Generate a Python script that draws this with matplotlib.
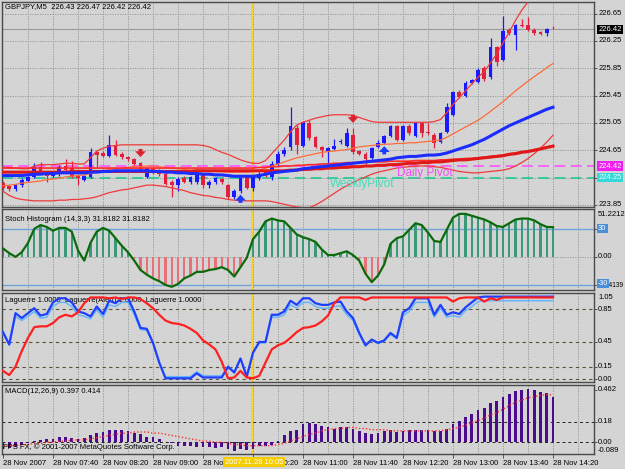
import matplotlib
matplotlib.use("Agg")
import matplotlib.pyplot as plt

W, H = 625, 469
BG = "#d4d4d4"
GRID = "#8c968c"

# ---- GBPJPY M5, 28 Nov 2007 07:00 .. 14:20 ----
opens = [
    224.17, 224.12, 224.08, 224.14, 224.20, 224.26, 224.41, 224.33, 224.28, 224.30,
    224.42, 224.39, 224.27, 224.22, 224.26, 224.62, 224.61, 224.57, 224.73, 224.60,
    224.55, 224.52, 224.46, 224.26, 224.37, 224.36, 224.31, 224.19, 224.14, 224.24,
    224.18, 224.18, 224.30, 224.14, 224.18, 224.23, 224.14, 223.97, 224.06, 224.26,
    224.10, 224.24, 224.33, 224.26, 224.45, 224.60, 224.70, 224.98, 224.72, 225.05,
    224.84, 224.70, 224.64, 224.67, 224.77, 224.72, 224.87, 224.64, 224.60, 224.54,
    224.70, 224.76, 224.86, 225.00, 224.80, 225.00, 224.86, 225.05, 224.92, 224.88,
    224.77, 224.92, 225.17, 225.50, 225.45, 225.64, 225.65, 225.85, 225.72, 226.16,
    225.97, 226.41, 226.34, 226.49, 226.48, 226.41, 226.38, 226.36, 226.43]
highs = [
    224.20, 224.14, 224.16, 224.24, 224.28, 224.46, 224.48, 224.35, 224.35, 224.43,
    224.52, 224.49, 224.29, 224.29, 224.68, 224.64, 224.64, 224.88, 224.80, 224.63,
    224.57, 224.54, 224.48, 224.41, 224.40, 224.38, 224.33, 224.21, 224.26, 224.27,
    224.28, 224.33, 224.32, 224.21, 224.26, 224.25, 224.16, 224.08, 224.26, 224.28,
    224.28, 224.33, 224.36, 224.49, 224.64, 224.70, 225.28, 225.02, 225.08, 225.10,
    224.86, 224.72, 224.70, 224.82, 224.82, 224.98, 224.97, 224.66, 224.62, 224.70,
    224.80, 224.88, 225.02, 225.02, 225.02, 225.03, 225.07, 225.07, 225.05, 224.90,
    224.92, 225.34, 225.52, 225.53, 225.66, 225.70, 225.86, 225.88, 226.30, 226.18,
    226.62, 226.44, 226.50, 226.57, 226.60, 226.44, 226.40, 226.44, 226.47]
lows = [
    224.07, 224.05, 224.06, 224.12, 224.18, 224.24, 224.30, 224.18, 224.26, 224.28,
    224.33, 224.24, 224.14, 224.20, 224.25, 224.40, 224.55, 224.55, 224.56, 224.52,
    224.49, 224.43, 224.34, 224.24, 224.31, 224.28, 224.14, 223.97, 224.06, 224.17,
    224.16, 224.16, 224.10, 224.10, 224.16, 224.16, 223.94, 223.94, 224.03, 224.08,
    224.06, 224.22, 224.26, 224.22, 224.42, 224.56, 224.66, 224.60, 224.70, 224.80,
    224.68, 224.55, 224.40, 224.65, 224.74, 224.70, 224.60, 224.58, 224.45, 224.52,
    224.68, 224.74, 224.84, 224.78, 224.78, 224.88, 224.84, 224.84, 224.88, 224.68,
    224.75, 224.90, 225.15, 225.41, 225.43, 225.62, 225.63, 225.66, 225.70, 225.88,
    225.95, 226.33, 226.12, 226.45, 226.39, 226.34, 226.33, 226.32, 226.42]
closes = [
    224.10, 224.09, 224.14, 224.22, 224.26, 224.41, 224.32, 224.28, 224.33, 224.41,
    224.36, 224.26, 224.24, 224.27, 224.62, 224.58, 224.57, 224.73, 224.58, 224.55,
    224.52, 224.45, 224.36, 224.39, 224.34, 224.30, 224.16, 224.14, 224.23, 224.19,
    224.26, 224.29, 224.14, 224.19, 224.24, 224.18, 223.97, 224.06, 224.24, 224.10,
    224.26, 224.31, 224.28, 224.45, 224.60, 224.66, 225.00, 224.73, 225.06, 224.83,
    224.70, 224.65, 224.68, 224.72, 224.78, 224.90, 224.62, 224.60, 224.52, 224.68,
    224.76, 224.86, 225.00, 224.80, 225.00, 224.90, 225.05, 224.90, 224.90, 224.76,
    224.90, 225.28, 225.50, 225.43, 225.64, 225.68, 225.83, 225.70, 226.16, 225.94,
    226.40, 226.36, 226.48, 226.47, 226.41, 226.36, 226.35, 226.42, 226.42]

bb_upper = [
    224.40, 224.40, 224.39, 224.38, 224.38, 224.42, 224.44, 224.44, 224.44, 224.45,
    224.46, 224.46, 224.45, 224.45, 224.54, 224.64, 224.68, 224.71, 224.72, 224.73,
    224.73, 224.73, 224.73, 224.73, 224.73, 224.73, 224.73, 224.73, 224.73, 224.73,
    224.73, 224.73, 224.72, 224.70, 224.66, 224.62, 224.59, 224.55, 224.51, 224.48,
    224.46, 224.46, 224.50, 224.60, 224.70, 224.80, 224.92, 225.02, 225.06, 225.09,
    225.12, 225.14, 225.16, 225.17, 225.17, 225.17, 225.16, 225.13, 225.10, 225.07,
    225.06, 225.06, 225.06, 225.06, 225.06, 225.06, 225.06, 225.06, 225.06, 225.07,
    225.10, 225.20, 225.32, 225.42, 225.52, 225.62, 225.72, 225.80, 225.93, 226.06,
    226.22, 226.38, 226.55, 226.70, 226.82, 226.92, 227.00, 227.06, 227.10]
bb_mid = [
    224.13, 224.14, 224.15, 224.17, 224.18, 224.19, 224.20, 224.22, 224.23, 224.24,
    224.26, 224.27, 224.28, 224.29, 224.31, 224.33, 224.35, 224.37, 224.38, 224.39,
    224.40, 224.41, 224.41, 224.42, 224.42, 224.41, 224.40, 224.39, 224.38, 224.37,
    224.36, 224.36, 224.35, 224.35, 224.34, 224.34, 224.33, 224.33, 224.33, 224.33,
    224.34, 224.36, 224.39, 224.42, 224.45, 224.48, 224.51, 224.54, 224.56, 224.58,
    224.60, 224.62, 224.63, 224.64, 224.65, 224.66, 224.68, 224.70, 224.71, 224.72,
    224.73, 224.74, 224.74, 224.75, 224.75, 224.76, 224.76, 224.77, 224.78, 224.79,
    224.80, 224.84, 224.89, 224.94, 224.99, 225.04, 225.09, 225.15, 225.22, 225.29,
    225.36, 225.44, 225.52, 225.59, 225.66, 225.73, 225.79, 225.86, 225.92]
bb_lower = [
    224.05, 223.99, 223.95, 223.93, 223.92, 223.91, 223.91, 223.91, 223.91, 223.92,
    223.92, 223.93, 223.93, 223.94, 223.95, 223.97, 224.00, 224.03, 224.05, 224.07,
    224.08, 224.10, 224.12, 224.14, 224.14, 224.13, 224.12, 224.10, 224.08, 224.06,
    224.03, 224.01, 223.99, 223.98, 223.96, 223.95, 223.93, 223.92, 223.91, 223.91,
    223.91, 223.91, 223.91, 223.90, 223.88, 223.86, 223.84, 223.82, 223.81, 223.81,
    223.85, 223.90, 223.96, 224.02, 224.08, 224.13, 224.18, 224.22, 224.26, 224.30,
    224.33, 224.35, 224.37, 224.39, 224.40, 224.41, 224.42, 224.42, 224.42, 224.41,
    224.40, 224.38, 224.36, 224.34, 224.33, 224.32, 224.32, 224.33, 224.34, 224.35,
    224.36, 224.38, 224.42, 224.47, 224.53, 224.60, 224.68, 224.77, 224.87]

ma_fast = [
    224.28, 224.28, 224.28, 224.28, 224.29, 224.30, 224.30, 224.31, 224.31, 224.32,
    224.32, 224.32, 224.32, 224.32, 224.33, 224.33, 224.34, 224.34, 224.35, 224.35,
    224.35, 224.35, 224.35, 224.35, 224.34, 224.34, 224.33, 224.33, 224.32, 224.32,
    224.31, 224.31, 224.30, 224.30, 224.29, 224.29, 224.28, 224.27, 224.27, 224.27,
    224.27, 224.28, 224.30, 224.32, 224.33, 224.34, 224.35, 224.36, 224.38, 224.39,
    224.40, 224.41, 224.42, 224.43, 224.44, 224.45, 224.46, 224.47, 224.48, 224.49,
    224.50, 224.51, 224.52, 224.54, 224.55, 224.56, 224.56, 224.57, 224.58, 224.58,
    224.59, 224.61, 224.64, 224.67, 224.70, 224.73, 224.77, 224.81, 224.86, 224.91,
    224.96, 225.01, 225.05, 225.09, 225.13, 225.17, 225.21, 225.25, 225.28]
ma_slow = [224.33] * 11 + [224.34] * 20 + [224.35] * 15 + [
    224.36, 224.36, 224.37, 224.37, 224.38, 224.38, 224.39, 224.39, 224.40, 224.40,
    224.41, 224.41, 224.42, 224.42, 224.43, 224.43, 224.44, 224.44, 224.45, 224.46,
    224.46, 224.47, 224.47, 224.48, 224.48, 224.49, 224.50, 224.51, 224.51, 224.52,
    224.53, 224.54, 224.55, 224.56, 224.57, 224.59, 224.60, 224.62, 224.63, 224.65,
    224.67, 224.69, 224.71]
ma_slow2 = [224.39] * 41 + [
    224.40, 224.40, 224.41, 224.41, 224.42, 224.42, 224.43, 224.43, 224.44,
    224.44, 224.45, 224.45, 224.46, 224.46, 224.47, 224.47, 224.47, 224.48, 224.48,
    224.48, 224.48, 224.49, 224.49, 224.49, 224.49, 224.50, 224.50, 224.50, 224.50,
    224.51, 224.51, 224.52, 224.52, 224.53, 224.53, 224.54, 224.55, 224.56, 224.57,
    224.58, 224.60, 224.61, 224.63, 224.64, 224.66, 224.68, 224.70, 224.72]

daily_pivot = 224.42
weekly_pivot = 224.25
last_price = 226.42
price_levels = [226.65, 226.25, 225.85, 225.45, 225.05, 224.65, 224.25, 223.85]
sell_bars, sell_prices = [22, 56], [224.61, 225.11]
buy_bars, buy_prices = [38, 61], [223.94, 224.65]

stoch = [
    9, 4, 0, 5, 15, 30, 34, 32, 28, 31,
    31, 27, 7, -4, 15, 27, 31, 28, 20, 12,
    5, -4, -14, -19, -23, -26, -30, -32, -29, -23,
    -20, -16, -16, -14, -13, -11, -14, -21, -11, -1,
    19, 27, 38, 41, 39, 38, 31, 24, 21, 19,
    16, 8, 2, 2, 4, 6, 2, -4, -18, -27,
    -20, -8, 14, 20, 22, 29, 36, 34, 26, 17,
    16, 29, 42, 46, 46, 44, 42, 40, 37, 33,
    32, 36, 40, 41, 41, 39, 35, 32, 31.82]

lag_fast = [
    0.57, 0.42, 0.80, 0.74, 0.80, 0.86, 0.77, 0.79, 0.93, 0.98,
    0.98, 0.93, 0.82, 0.80, 0.76, 0.88, 0.79, 0.95, 0.92, 0.98,
    0.98, 0.82, 0.62, 0.61, 0.44, 0.20, 0.01, 0.01, 0.01, 0.01,
    0.01, 0.07, 0.02, 0.02, 0.02, 0.02, 0.15, 0.08, 0.25, 0.03,
    0.32, 0.45, 0.45, 0.78, 0.78, 0.82, 0.95, 0.90, 0.98, 0.98,
    0.92, 0.90, 0.90, 0.93, 0.94, 0.82, 0.74, 0.56, 0.41, 0.48,
    0.44, 0.47, 0.56, 0.50, 0.81, 0.86, 0.98, 0.98, 0.98, 0.78,
    0.90, 0.78, 0.81, 0.79, 0.87, 0.93, 0.99, 1.00, 1.00, 1.00,
    1.00, 1.00, 1.00, 1.00, 1.00, 1.00, 1.00, 1.00, 1.00]
lag_alert = [
    0.55, 0.41, 0.76, 0.71, 0.76, 0.82, 0.74, 0.75, 0.88, 0.93,
    0.93, 0.88, 0.78, 0.76, 0.73, 0.84, 0.75, 0.90, 0.88, 0.93,
    0.93, 0.78, 0.60, 0.59, 0.43, 0.21, 0.03, 0.03, 0.03, 0.03,
    0.03, 0.09, 0.04, 0.04, 0.04, 0.04, 0.16, 0.09, 0.25, 0.05,
    0.32, 0.44, 0.44, 0.75, 0.75, 0.78, 0.90, 0.86, 0.93, 0.93,
    0.88, 0.86, 0.86, 0.88, 0.89, 0.78, 0.71, 0.54, 0.40, 0.47,
    0.43, 0.46, 0.54, 0.49, 0.77, 0.82, 0.93, 0.93, 0.93, 0.75,
    0.86, 0.75, 0.77, 0.75, 0.83, 0.88, 0.94, 0.95, 0.95, 0.95,
    0.95, 0.95, 0.95, 0.95, 0.95, 0.95, 0.95, 0.95, 0.95]
lag_slow = [
    0.10, 0.05, 0.15, 0.34, 0.50, 0.63, 0.64, 0.64, 0.68, 0.75,
    0.78, 0.76, 0.81, 0.92, 0.99, 0.99, 0.99, 0.98, 0.99, 0.97,
    0.99, 0.99, 0.97, 0.92, 0.86, 0.78, 0.71, 0.68, 0.67, 0.65,
    0.61, 0.56, 0.47, 0.42, 0.36, 0.21, 0.01, 0.02, 0.10, 0.02,
    0.01, 0.04, 0.20, 0.36, 0.41, 0.44, 0.50, 0.57, 0.62, 0.63,
    0.65, 0.70, 0.77, 0.92, 0.99, 0.99, 0.99, 0.99, 0.96, 0.99,
    0.99, 0.99, 0.99, 0.99, 0.99, 0.99, 0.99, 0.99, 0.99, 0.99,
    0.99, 0.99, 0.94, 0.98, 0.99, 0.99, 0.99, 0.94, 0.98, 0.96,
    0.99, 0.99, 0.99, 0.99, 0.99, 0.99, 0.99, 0.99, 0.99]

macd_hist = [
    -0.06, -0.05, -0.04, -0.02, -0.01, 0.01, 0.02, 0.03, 0.03, 0.05,
    0.05, 0.04, 0.03, 0.04, 0.06, 0.08, 0.09, 0.11, 0.11, 0.11,
    0.10, 0.08, 0.07, 0.05, 0.05, 0.03, 0.005, -0.01, -0.03, -0.03,
    -0.03, -0.04, -0.04, -0.04, -0.05, -0.04, -0.06, -0.08, -0.06, -0.07,
    -0.06, -0.03, -0.03, -0.02, 0.01, 0.06, 0.10, 0.11, 0.16, 0.17,
    0.16, 0.14, 0.13, 0.12, 0.13, 0.13, 0.12, 0.10, 0.08, 0.07,
    0.08, 0.10, 0.11, 0.09, 0.10, 0.11, 0.11, 0.11, 0.11, 0.10,
    0.10, 0.12, 0.16, 0.19, 0.22, 0.25, 0.28, 0.30, 0.34, 0.36,
    0.40, 0.42, 0.45, 0.46, 0.47, 0.46, 0.44, 0.43, 0.40]
macd_signal = [
    -0.03, -0.03, -0.03, -0.02, -0.02, -0.01, -0.01, 0.00, 0.00, 0.01,
    0.01, 0.02, 0.02, 0.02, 0.03, 0.04, 0.05, 0.06, 0.07, 0.08,
    0.08, 0.09, 0.09, 0.09, 0.08, 0.08, 0.07, 0.06, 0.05, 0.04,
    0.03, 0.02, 0.01, 0.01, 0.00, 0.00, -0.01, -0.02, -0.02, -0.03,
    -0.03, -0.03, -0.03, -0.03, -0.02, -0.01, 0.01, 0.03, 0.05, 0.07,
    0.08, 0.10, 0.11, 0.12, 0.12, 0.13, 0.13, 0.12, 0.12, 0.11,
    0.11, 0.11, 0.10, 0.10, 0.10, 0.10, 0.10, 0.10, 0.10, 0.10,
    0.10, 0.11, 0.12, 0.13, 0.15, 0.17, 0.19, 0.21, 0.24, 0.26,
    0.29, 0.32, 0.35, 0.37, 0.39, 0.40, 0.41, 0.42, 0.414]

time_labels = ["28 Nov 2007", "28 Nov 07:40", "28 Nov 08:20", "28 Nov 09:00",
               "28 Nov 09:40", "28 Nov 10:20", "28 Nov 11:00", "28 Nov 11:40",
               "28 Nov 12:20", "28 Nov 13:00", "28 Nov 13:40", "28 Nov 14:20"]
cursor_bar = 39.85
cursor_label = "2007.11.28 10:05"

# ---- drawing ----
plt.rcParams["font.family"] = ["Liberation Sans", "DejaVu Sans"]
FS = 5.5
fig = plt.figure(figsize=(W / 100, H / 100), dpi=100, facecolor=BG)


def fx(px):
    return px / W


def fy(py):
    return 1 - py / H


def panel(top, bottom, ylim):
    ax = fig.add_axes([fx(2), fy(bottom), (594 - 2) / W, (bottom - top) / H])
    ax.set_facecolor(BG)
    ax.set_xlim(-0.16, 94.56)
    ax.set_ylim(*ylim)
    ax.set_xticks([])
    ax.yaxis.tick_right()
    ax.tick_params(axis="y", length=2, width=0.6, color="#404040", labelright=False)
    for sp in ax.spines.values():
        sp.set_color("#4a4a4a")
        sp.set_linewidth(1.0)
    for g in range(4, 95, 4):
        ax.axvline(g - 0.08, color=GRID, lw=0.6, ls=(0, (1.5, 1.5)), zorder=0)
    ax.axvline(cursor_bar, color="#ffd21a", lw=1.3, zorder=1.5)
    return ax


def rlabel(ax, y, s, fc=None, tc="black", axes_y=False, fs=FS):
    tr = ax.transAxes if axes_y else ax.get_yaxis_transform()
    kw = {}
    if fc:
        kw["bbox"] = dict(boxstyle="square,pad=0.15", fc=fc, ec="none")
    ax.text(1.007, y, s, transform=tr, fontsize=fs, color=tc, va="center",
            ha="left", clip_on=False, zorder=6, **kw)


def ptext(ax, px, py, s, **kw):
    ax.text(fx(px), fy(py), s, transform=fig.transFigure, fontsize=FS,
            va="center", ha="left", **kw)


def fat_arrow(ax, x, y, up, color):
    half = 0.06
    tail, tip = (y - half, y + half) if up else (y + half, y - half)
    ax.annotate("", xy=(x, tip), xytext=(x, tail), zorder=5,
                arrowprops=dict(arrowstyle="simple,head_width=1.1,head_length=0.6,tail_width=0.4",
                                mutation_scale=7, color=color, lw=0,
                                shrinkA=0, shrinkB=0))


idx = list(range(len(closes)))

# main price panel
ax = panel(2, 207, (223.82, 226.82))
ax.set_yticks(price_levels)
for lv in price_levels:
    ax.axhline(lv, color=GRID, lw=0.6, ls=(0, (1.5, 1.5)), zorder=0)
    rlabel(ax, lv, f"{lv:.2f}")
ax.axhline(last_price, color="#9a9a9a", lw=0.8, zorder=1)
ax.axhline(daily_pivot, color="#ff5cff", lw=1.3, ls=(0, (6, 3)), zorder=2)
ax.axhline(weekly_pivot, color="#2fc89a", lw=1.3, ls=(0, (6, 3)), zorder=2)

for i in idx:
    o, h, l, c = opens[i], highs[i], lows[i], closes[i]
    col = "#1a1aff" if c >= o else "#e0203c"
    ax.vlines(i, l, h, color=col, lw=0.9, zorder=3)
    ax.bar(i, max(abs(c - o), 0.012), bottom=min(o, c), width=0.62,
           color=col, linewidth=0, zorder=3)

ax.plot(idx, bb_upper, color="#f03a3a", lw=0.9, zorder=4)
ax.plot(idx, bb_mid, color="#ff6a3a", lw=0.9, zorder=4)
ax.plot(idx, bb_lower, color="#f03a3a", lw=0.9, zorder=4)
ax.plot(idx, ma_slow2, color="#ff2a2a", lw=1.2, zorder=4)
ax.plot(idx, ma_slow, color="#e01818", lw=2.2, zorder=4)
ax.plot(idx, ma_fast, color="#1c2cff", lw=2.2, zorder=4)

for b, p in zip(sell_bars, sell_prices):
    fat_arrow(ax, b, p, False, "#e0202a")
for b, p in zip(buy_bars, buy_prices):
    fat_arrow(ax, b, p, True, "#1a3cff")

ax.text(63.0, daily_pivot - 0.02, "Daily Pivot", color="#f050f0", fontsize=8.5,
        va="top", ha="left", zorder=5)
ax.text(52.3, weekly_pivot - 0.01, "WeeklyPivot", color="#3ee0b8", fontsize=8.5,
        va="top", ha="left", zorder=5)

rlabel(ax, last_price, f"{last_price:.2f}", fc="black", tc="white")
rlabel(ax, daily_pivot, f"{daily_pivot:.2f}", fc="#f020f0", tc="white")
rlabel(ax, weekly_pivot, f"{weekly_pivot:.2f}", fc="#33d8d8", tc="#f0fff0")
ptext(ax, 5, 7, "GBPJPY,M5  226.43 226.47 226.42 226.42")

# stochastic histogram
ax_s = panel(209, 290, (-35.4139, 51.2212))
ax_s.set_yticks([30, 0, -30])
ax_s.axhline(0, color=GRID, lw=0.6, ls=(0, (1.5, 1.5)), zorder=0)
ax_s.axhline(30, color="#6fa3dc", lw=1.0, zorder=1)
ax_s.axhline(-30, color="#6fa3dc", lw=1.0, zorder=1)
ax_s.bar(idx, stoch, width=0.35, linewidth=0, zorder=2,
         color=["#3a9a78" if v >= 0 else "#e87078" for v in stoch])
ax_s.plot(idx, stoch, color="#0b6b0b", lw=1.6, zorder=3)
rlabel(ax_s, 0.93, "51.2212", axes_y=True)
rlabel(ax_s, 30, "30", fc="#4a90d9", tc="white")
rlabel(ax_s, 0, "0.00")
rlabel(ax_s, 0.05, "-35.4139", axes_y=True, fs=4.8)
rlabel(ax_s, -28, "-30", fc="#4a90d9", tc="white", fs=5)
ptext(ax_s, 5, 219, "Stoch Histogram (14,3,3) 31.8182 31.8182", zorder=5)

# laguerre
ax_l = panel(293, 382, (-0.035, 1.044))
lag_levels = [0.85, 0.45, 0.15, 0.0]
ax_l.set_yticks(lag_levels)
for lv in lag_levels:
    ax_l.axhline(lv, color="#5a5238", lw=0.8, ls=(0, (3, 3)), zorder=1)
    rlabel(ax_l, lv, f"{lv:.2f}")
rlabel(ax_l, 0.95, "1.05", axes_y=True)
ptext(ax_l, 5, 300, "Laguerre 1.0000  Laguerre(Alert) 1.0000  Laguerre 1.0000", zorder=1)
ax_l.plot(idx, lag_alert, color="#5fb4ff", lw=1.0, zorder=3)
ax_l.plot(idx, lag_fast, color="#1f3fff", lw=1.6, zorder=3)
ax_l.plot(idx, lag_slow, color="#ff1f1f", lw=1.6, zorder=3)

# macd
ax_m = panel(385, 454, (-0.103, 0.502))
ax_m.set_yticks([0.462, 0.18, 0.0])
ax_m.axhline(0.18, color="#202020", lw=0.7, ls=(0, (3, 3)), zorder=1)
ax_m.axhline(0.0, color="#202020", lw=0.7, ls=(0, (3, 3)), zorder=1)
ax_m.bar(idx, macd_hist, width=0.45, color="#4b0c8c", linewidth=0, zorder=2)
ax_m.plot(idx, macd_signal, color="#ff3030", lw=1.0, ls=(0, (1, 1.5)), zorder=3)
rlabel(ax_m, 0.462, "0.462")
rlabel(ax_m, 0.18, "0.18")
rlabel(ax_m, 0.0, "0.00")
rlabel(ax_m, -0.075, "-0.089")
ptext(ax_m, 5, 391, "MACD(12,26,9) 0.397 0.414")
ptext(ax_m, 3, 447, "FPS FX, \u00a9 2001-2007 MetaQuotes Software Corp.", zorder=5)

ax_m.set_xticks(idx[::8])
ax_m.set_xticklabels(time_labels, ha="left", fontsize=FS)
ax_m.tick_params(axis="x", length=3, width=0.6, pad=1.5, color="#404040")

fig.text(fx(254), fy(462), cursor_label, ha="center", va="center", fontsize=FS,
         color="white", zorder=10,
         bbox=dict(boxstyle="square,pad=0.25", fc="#f5cc00", ec="none"))

fig.savefig("out.png", dpi=100, facecolor=BG)
